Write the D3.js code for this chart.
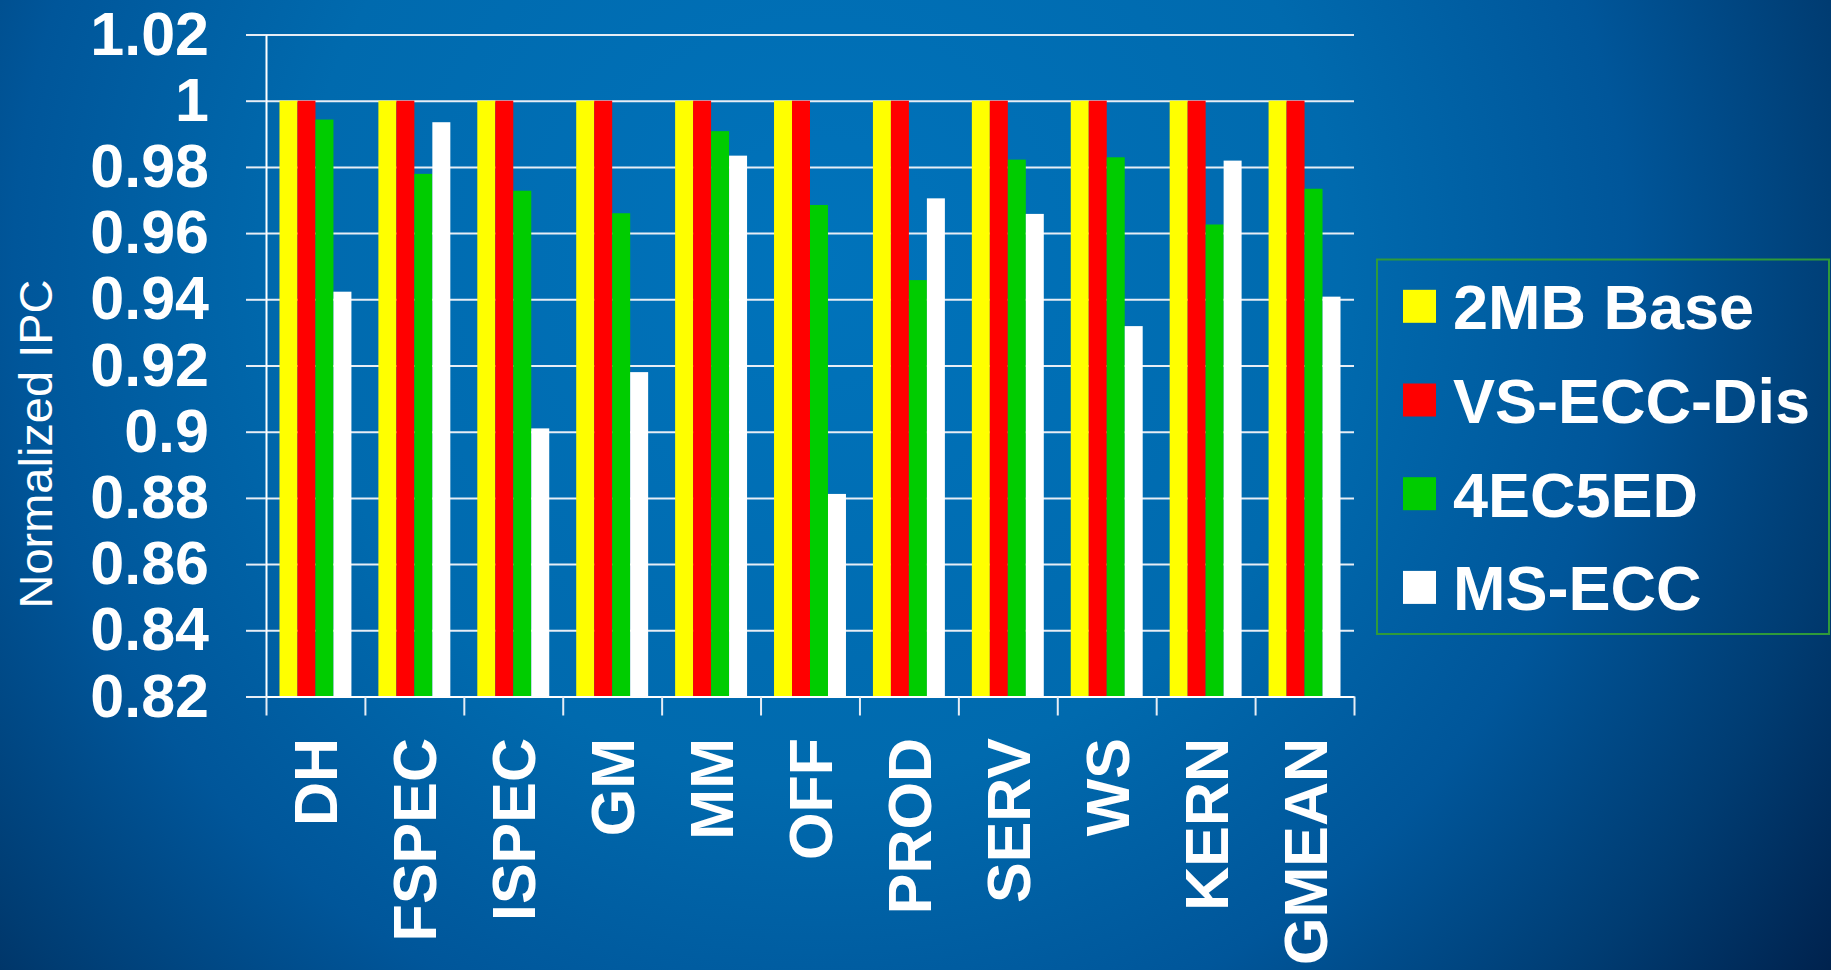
<!DOCTYPE html>
<html>
<head>
<meta charset="utf-8">
<script src="https://cdn.jsdelivr.net/npm/d3@7"></script>
<style>
  html, body { margin: 0; padding: 0; background: #003a70; overflow: hidden; }
  svg { display: block; }
  text { font-family: "Liberation Sans", Arial, Helvetica, sans-serif; fill: #ffffff; }
</style>
</head>
<body>
<svg id="chart" width="1831" height="970"></svg>
<script>
// Workload groups along the x axis
const categories = ["DH", "FSPEC", "ISPEC", "GM", "MM", "OFF", "PROD", "SERV", "WS", "KERN", "GMEAN"];

// Series names (legend order) and their fill colours
const seriesNames = ["2MB Base", "VS-ECC-Dis", "4EC5ED", "MS-ECC"];
const seriesColors = ["#ffff00", "#ff0000", "#00cc00", "#ffffff"];

// Normalized IPC per series, one value per workload group
const base2MB   = [1, 1, 1, 1, 1, 1, 1, 1, 1, 1, 1];
const vsEccDis  = [1, 1, 1, 1, 1, 1, 1, 1, 1, 1, 1];
const ec4ed5    = [0.9943, 0.9779, 0.9728, 0.9660, 0.9908, 0.9685, 0.9458, 0.9822, 0.9829, 0.9626, 0.9734];
const msEcc     = [0.9423, 0.9935, 0.9010, 0.9180, 0.9834, 0.8812, 0.9705, 0.9658, 0.9319, 0.9819, 0.9408];

// Y axis tick labels
const yTicks = [0.82, 0.84, 0.86, 0.88, 0.9, 0.92, 0.94, 0.96, 0.98, 1, 1.02];
const yTitle = "Normalized IPC";

const seriesValues = [base2MB, vsEccDis, ec4ed5, msEcc];
const rows = categories.map((c, i) => ({
  category: c,
  values: seriesNames.map((s, j) => ({ series: s, value: seriesValues[j][i], color: seriesColors[j] }))
}));

const svg = d3.select("#chart");
const W = 1831, H = 970;
const plot = { left: 266, right: 1354, top: 34.5, bottom: 696.5 };

// Slide-style blue background
const defs = svg.append("defs");
const bg = defs.append("radialGradient")
  .attr("id", "bgGrad")
  .attr("gradientUnits", "userSpaceOnUse")
  .attr("cx", 820).attr("cy", 260).attr("r", 1300)
  .attr("fx", 820).attr("fy", 260);
[[0, "#0073bb"], [0.4, "#006aae"], [0.62, "#00569a"], [0.8, "#003c72"], [1, "#001a42"]]
  .forEach(([o, c]) => bg.append("stop").attr("offset", o).attr("stop-color", c));
svg.append("rect").attr("width", W).attr("height", H).attr("fill", "url(#bgGrad)");

// Scales
const y = d3.scaleLinear().domain([0.82, 1.02]).range([plot.bottom, plot.top]);
const x0 = d3.scaleBand().domain(categories).range([plot.left, plot.right])
  .paddingInner(0.2727).paddingOuter(0.13636);
const x1 = d3.scaleBand().domain(seriesNames).range([0, x0.bandwidth()]);
const xEdges = d3.scaleLinear().domain([0, categories.length]).range([plot.left, plot.right]);

// Horizontal gridlines
svg.append("g")
  .attr("class", "grid")
  .attr("transform", `translate(${plot.left},0)`)
  .call(d3.axisLeft(y).tickValues(yTicks).tickSize(-(plot.right - plot.left)).tickFormat(""))
  .call(g => g.select(".domain").remove())
  .call(g => g.selectAll("line").attr("stroke", "#e6edf5").attr("stroke-width", 2));

// Bars
const groups = svg.append("g").selectAll("g")
  .data(rows).join("g")
  .attr("transform", d => `translate(${x0(d.category)},0)`);
groups.selectAll("rect")
  .data(d => d.values).join("rect")
  .attr("x", d => x1(d.series))
  .attr("width", x1.bandwidth())
  .attr("y", d => y(d.value))
  .attr("height", d => y(0.82) - y(d.value))
  .attr("fill", d => d.color);

// Y axis with outside ticks and labels
svg.append("g")
  .attr("transform", `translate(${plot.left},0)`)
  .call(d3.axisLeft(y).tickValues(yTicks).tickSizeInner(20).tickSizeOuter(0).tickPadding(37)
    .tickFormat(d3.format("~g")))
  .call(g => g.select(".domain").attr("stroke", "#ffffff").attr("stroke-width", 2))
  .call(g => g.selectAll(".tick line").attr("stroke", "#e6edf5").attr("stroke-width", 2))
  .call(g => g.selectAll(".tick text")
    .attr("fill", "#ffffff")
    .attr("font-size", 61).attr("font-weight", "bold")
    .attr("font-family", "'Liberation Sans', Arial, sans-serif"));

// X axis: ticks between groups
svg.append("g")
  .attr("transform", `translate(0,${plot.bottom})`)
  .call(d3.axisBottom(xEdges).tickValues(d3.range(categories.length + 1)).tickSizeInner(19).tickSizeOuter(0).tickFormat(""))
  .call(g => g.select(".domain").attr("stroke", "#ffffff").attr("stroke-width", 2))
  .call(g => g.selectAll(".tick line").attr("stroke", "#e6edf5").attr("stroke-width", 2));

// Rotated category labels
svg.append("g").selectAll("text")
  .data(categories).join("text")
  .attr("transform", d => `translate(${x0(d) + x0.bandwidth() / 2},738) rotate(-90)`)
  .attr("text-anchor", "end")
  .attr("dy", "0.36em")
  .attr("font-size", 61)
  .attr("font-weight", "bold")
  .text(d => d);

// Y axis title
svg.append("text")
  .attr("transform", "translate(52,444) rotate(-90)")
  .attr("text-anchor", "middle")
  .attr("font-size", 47)
  .text(yTitle);

// Legend
const legend = svg.append("g");
legend.append("rect")
  .attr("x", 1377).attr("y", 259.5)
  .attr("width", 452).attr("height", 374.5)
  .attr("fill", "none").attr("stroke", "#2f9a3a").attr("stroke-width", 2);
const items = legend.selectAll("g.item")
  .data(seriesNames).join("g").attr("class", "item")
  .attr("transform", (d, i) => `translate(1403,${306.3 + i * 93.7})`);
items.append("rect")
  .attr("x", 0).attr("y", -16.5).attr("width", 33).attr("height", 33)
  .attr("fill", (d, i) => seriesColors[i]);
items.append("text")
  .attr("x", 50).attr("y", 23)
  .attr("font-size", 63).attr("font-weight", "bold")
  .text(d => d);
</script>
</body>
</html>
